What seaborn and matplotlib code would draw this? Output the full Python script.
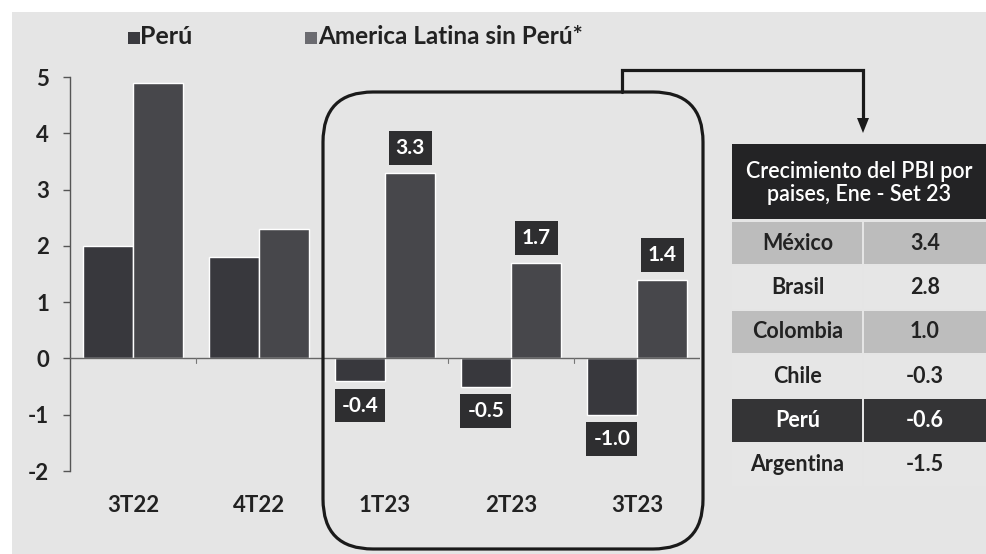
import matplotlib
matplotlib.use("Agg")
import matplotlib.pyplot as plt
from matplotlib.patches import FancyBboxPatch, Rectangle, Polygon
from matplotlib.transforms import IdentityTransform
import seaborn as sns
import pandas as pd

# ---------------- data ----------------
categories = ["3T22", "4T22", "1T23", "2T23", "3T23"]
peru = [2.0, 1.8, -0.4, -0.5, -1.0]
latam = [4.9, 2.3, 3.3, 1.7, 1.4]
series_names = ["Perú", "America Latina sin Perú*"]
labeled_cats = ["1T23", "2T23", "3T23"]

table_title = "Crecimiento del PBI por\npaises, Ene - Set 23"
countries = ["México", "Brasil", "Colombia", "Chile", "Perú", "Argentina"]
growth = [3.4, 2.8, 1.0, -0.3, -0.6, -1.5]
row_colors = ["#bcbcbc", "#e6e6e6", "#bdbdbd", "#e6e6e6", "#343436", "#e6e6e6"]
row_text_colors = ["#222222", "#222222", "#222222", "#222222", "#ffffff", "#222222"]

yticks = [-2, -1, 0, 1, 2, 3, 4, 5]

# ---------------- style ----------------
sns.set_theme(style="white")
plt.rcParams["font.family"] = ["Lato", "DejaVu Sans"]
plt.rcParams["font.weight"] = "bold"

W, H = 987, 554
DPI = 100
fig = plt.figure(figsize=(W / DPI, H / DPI), dpi=DPI, facecolor="white")
ID = IdentityTransform()

def P(x, y):
    """image pixel (top-left origin) -> display coords"""
    return x, H - y

BG = "#e5e5e5"
fig.patches.append(Rectangle(P(12, H), W - 12, H - 12, transform=ID,
                             facecolor=BG, edgecolor="none", zorder=-5))

# axes placement: x from 70 to 700 px, y from 77 (5) to 471 (-2)
ax_left, ax_right, ax_top, ax_bot = 70, 700, 77, 471
ax = fig.add_axes([ax_left / W, (H - ax_bot) / H, (ax_right - ax_left) / W,
                   (ax_bot - ax_top) / H])
ax.set_facecolor("none")
ax.set_zorder(1)

df = pd.DataFrame({
    "cat": categories * 2,
    "serie": [series_names[0]] * len(categories) + [series_names[1]] * len(categories),
    "val": peru + latam,
})
pal = {series_names[0]: "#38383d", series_names[1]: "#47474b"}
sns.barplot(data=df, x="cat", y="val", hue="serie", order=categories,
            hue_order=series_names, palette=pal, width=0.8, saturation=1,
            legend=False, ax=ax, zorder=2)

ax.set_xlim(-0.5, len(categories) - 0.5)
ax.set_ylim(-2, 5)
ax.set_xlabel("")
ax.set_ylabel("")
for s in ["top", "right", "bottom"]:
    ax.spines[s].set_visible(False)
ax.spines["left"].set_color("#555555")
ax.spines["left"].set_linewidth(1.0)
ax.set_yticks(yticks)
ax.set_yticklabels([str(t) for t in yticks], fontsize=16, fontweight="bold",
                   color="#222222")
ax.tick_params(axis="y", length=5, width=1.0, color="#555555", pad=10, left=True)
ax.set_xticks([])
ax.axhline(0, color="#666666", lw=1.0, zorder=3)
for b in [0.5, 1.5, 2.5, 3.5]:
    ax.plot([b, b], [0, -0.08], color="#777777", lw=0.8, zorder=3)

# category labels below the plot
for i, c in enumerate(categories):
    ax.text(i, -2.62, c, ha="center", va="center", fontsize=16,
            fontweight="bold", color="#222222", clip_on=False)

# value labels for the last categories
for i, c in enumerate(categories):
    if c not in labeled_cats:
        continue
    for j, vals in enumerate([peru, latam]):
        v = vals[i]
        x = i - 0.2 + 0.4 * j
        if v >= 0:
            y = v + 0.26
            va = "bottom"
        else:
            y = v - 0.26
            va = "top"
        ax.text(x, y, f"{v:.1f}", ha="center", va=va, fontsize=15,
                fontweight="bold", color="white", zorder=5,
                bbox=dict(boxstyle="square,pad=0.33", facecolor="#2e2e30",
                          edgecolor="none"))

# ---------------- legend ----------------
fig.patches.append(Rectangle(P(128, 44), 12, 12, transform=ID,
                             facecolor="#3a3a3f", edgecolor="none"))
fig.text(140 / W, 1 - 37 / H, series_names[0], fontsize=18, fontweight="bold",
         color="#222222", va="center", ha="left")
fig.patches.append(Rectangle(P(305, 44), 12, 12, transform=ID,
                             facecolor="#6b6b70", edgecolor="none"))
fig.text(318 / W, 1 - 37 / H, series_names[1], fontsize=17.5, fontweight="bold",
         color="#222222", va="center", ha="left")

# ---------------- rounded highlight box ----------------
bx0, by0, bx1, by1 = 323, 92, 703, 549
fig.patches.append(FancyBboxPatch(P(bx0, by1), bx1 - bx0, by1 - by0,
                                  boxstyle="round,pad=0,rounding_size=50",
                                  transform=ID, facecolor="none",
                                  edgecolor="#1a1a1a", lw=2.3, zorder=6))
# connector arrow
fig.lines.append(plt.Line2D([622, 622, 863, 863],
                            [H - 92, H - 70, H - 70, H - 122],
                            transform=ID, color="#1a1a1a", lw=2.3,
                            solid_joinstyle="miter", zorder=6))
fig.patches.append(Polygon(
    [(857, H - 118), (869, H - 118), (863, H - 133)], closed=True,
    transform=ID, facecolor="#1a1a1a", edgecolor="none", zorder=6))

# ---------------- table ----------------
tx0, tmid, tx1 = 732, 863, 987
fig.patches.append(Rectangle(P(tx0, 219), tx1 - tx0, 219 - 144, transform=ID,
                             facecolor="#232325", edgecolor="none", zorder=4))
fig.text((tx0 + tx1) / 2 / W, 1 - 183 / H, table_title, ha="center",
         va="center", fontsize=15.5, fontweight="semibold", color="white",
         linespacing=1.1, zorder=7)
row_top0, row_h, gap = 222, 44.3, 2
for k, (c, g, rc, tc) in enumerate(zip(countries, growth, row_colors,
                                       row_text_colors)):
    top = row_top0 + k * row_h
    bot = top + row_h - gap
    fig.patches.append(Rectangle(P(tx0, bot), tmid - tx0 - 1, bot - top,
                                 transform=ID, facecolor=rc, edgecolor="none",
                                 zorder=4))
    fig.patches.append(Rectangle(P(tmid + 1, bot), tx1 - tmid - 1, bot - top,
                                 transform=ID, facecolor=rc, edgecolor="none",
                                 zorder=4))
    yc = 1 - (top + bot) / 2 / H
    fig.text((tx0 + tmid) / 2 / W, yc, c, ha="center", va="center",
             fontsize=15.5, fontweight="bold", color=tc, zorder=7)
    fig.text((tmid + tx1) / 2 / W, yc, f"{g:.1f}", ha="center", va="center",
             fontsize=15.5, fontweight="bold", color=tc, zorder=7)

fig.savefig("out.png", dpi=DPI, facecolor=fig.get_facecolor())
